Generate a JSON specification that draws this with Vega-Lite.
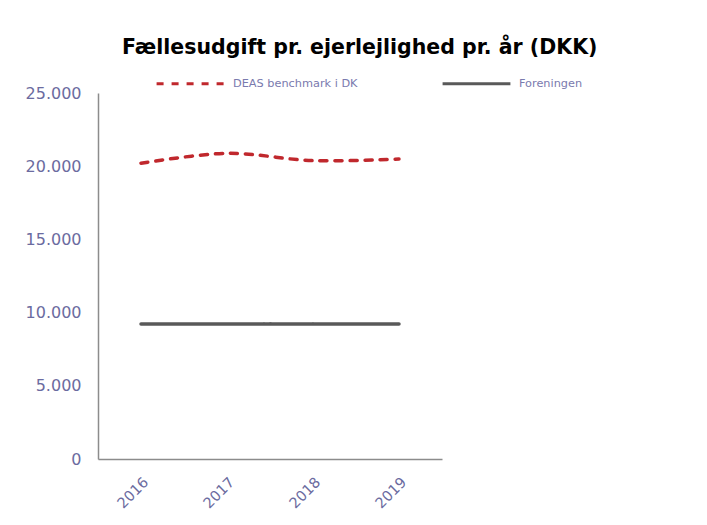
{
  "$schema": "https://vega.github.io/schema/vega-lite/v6.json",
  "autosize": "none",
  "width": 344,
  "height": 366,
  "padding": {"left": 98, "top": 93, "right": 265, "bottom": 66},
  "background": "white",
  "title": {
    "text": "Fællesudgift pr. ejerlejlighed pr. år (DKK)",
    "font": "DejaVu Sans",
    "fontSize": 20.5,
    "fontWeight": "bold",
    "color": "#000000",
    "anchor": "start",
    "frame": "group",
    "dx": 24,
    "dy": 14
  },
  "data": {
    "values": [
      {"year": "2016", "series": "DEAS benchmark i DK", "value": 20200},
      {"year": "2017", "series": "DEAS benchmark i DK", "value": 20880},
      {"year": "2018", "series": "DEAS benchmark i DK", "value": 20380},
      {"year": "2019", "series": "DEAS benchmark i DK", "value": 20490},
      {"year": "2016", "series": "Foreningen", "value": 9220},
      {"year": "2017", "series": "Foreningen", "value": 9220},
      {"year": "2018", "series": "Foreningen", "value": 9220},
      {"year": "2019", "series": "Foreningen", "value": 9220}
    ]
  },
  "mark": {"type": "line", "interpolate": "catmull-rom", "strokeWidth": 3.5, "strokeCap": "round"},
  "encoding": {
    "x": {
      "field": "year",
      "type": "ordinal",
      "scale": {"padding": 0.5},
      "axis": {"title": null, "labelAngle": -45, "labelFontSize": 14.5, "labelPadding": 16, "labelDx": -5}
    },
    "y": {
      "field": "value",
      "type": "quantitative",
      "scale": {"domain": [0, 25000]},
      "axis": {
        "title": null,
        "values": [0, 5000, 10000, 15000, 20000, 25000],
        "labelExpr": "replace(format(datum.value, ',.0f'), ',', '.')",
        "labelFontSize": 16,
        "labelPadding": 17
      }
    },
    "color": {
      "field": "series",
      "type": "nominal",
      "scale": {"domain": ["DEAS benchmark i DK", "Foreningen"], "range": ["#C0282D", "#595959"]},
      "legend": {"title": null}
    },
    "strokeDash": {
      "field": "series",
      "type": "nominal",
      "scale": {"domain": ["DEAS benchmark i DK", "Foreningen"], "range": [[7, 8], [1, 0]]},
      "legend": {"title": null}
    }
  },
  "config": {
    "view": {"stroke": null},
    "axis": {
      "domainColor": "#8C8C8C",
      "domainWidth": 1.5,
      "ticks": false,
      "grid": false,
      "labelFont": "DejaVu Sans",
      "labelColor": "#6B6BA0"
    },
    "legend": {
      "orient": "none",
      "legendX": 57,
      "legendY": -45,
      "direction": "horizontal",
      "columnPadding": 78,
      "symbolType": "stroke",
      "symbolSize": 4600,
      "symbolStrokeWidth": 3,
      "labelFont": "DejaVu Sans",
      "labelFontSize": 11.3,
      "labelColor": "#7A7AAE",
      "labelOffset": 7
    }
  }
}
